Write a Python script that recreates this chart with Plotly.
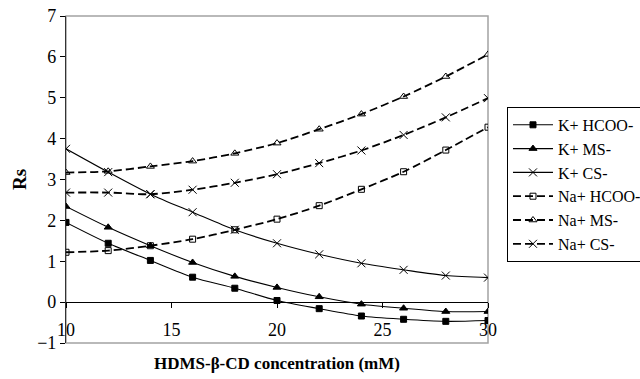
import plotly.graph_objects as go

# HDMS-beta-CD concentration (mM)
conc = [10, 12, 14, 16, 18, 20, 22, 24, 26, 28, 30]

# Resolution Rs for each background electrolyte
k_hcoo = [1.95, 1.44, 1.02, 0.61, 0.34, 0.04, -0.16, -0.34, -0.42, -0.47, -0.45]
k_ms = [2.34, 1.83, 1.38, 0.97, 0.63, 0.36, 0.13, -0.05, -0.15, -0.23, -0.23]
k_cs = [3.75, 3.18, 2.64, 2.20, 1.77, 1.44, 1.17, 0.95, 0.79, 0.65, 0.60]
na_hcoo = [1.22, 1.26, 1.38, 1.54, 1.77, 2.03, 2.36, 2.76, 3.19, 3.72, 4.28]
na_ms = [3.17, 3.20, 3.32, 3.45, 3.64, 3.89, 4.23, 4.60, 5.03, 5.52, 6.06]
na_cs = [2.68, 2.68, 2.64, 2.75, 2.92, 3.13, 3.40, 3.71, 4.09, 4.52, 4.99]

series = [
    ("K+ HCOO-", k_hcoo, "solid", "square", 6),
    ("K+ MS-", k_ms, "solid", "triangle-up", 7),
    ("K+ CS-", k_cs, "solid", "x-thin", 8),
    ("Na+ HCOO-", na_hcoo, "dash", "square-open", 6),
    ("Na+ MS-", na_ms, "dash", "triangle-up-open", 7),
    ("Na+ CS-", na_cs, "dash", "x-thin", 8),
]

SERIF = "Liberation Serif"

fig = go.Figure()
for name, vals, style, sym, size in series:
    dashed = style == "dash"
    fig.add_trace(go.Scatter(
        x=conc, y=vals, name=name, mode="lines+markers",
        line=dict(color="black", width=1.8 if dashed else 1.1,
                  dash="8px,4px" if dashed else "solid", shape="spline", smoothing=0.8),
        marker=dict(symbol=sym, size=size, color="black",
                    line=dict(color="black", width=1)),
    ))

# Grey plot-area frame
fig.add_shape(type="rect", xref="paper", yref="paper", x0=0, y0=0, x1=1, y1=1,
              line=dict(color="#a3a3a3", width=1.5), layer="below")

fig.update_layout(
    width=640, height=379,
    margin=dict(l=66, r=152, t=16, b=36, autoexpand=False),
    paper_bgcolor="white", plot_bgcolor="white",
    font=dict(family=SERIF, size=16, color="black"),
    showlegend=True,
    legend=dict(x=1.045, xanchor="left", y=0.722, yanchor="top",
                bordercolor="black", borderwidth=1, bgcolor="white",
                font=dict(family=SERIF, size=16), itemwidth=40,
                entrywidth=130, entrywidthmode="pixels"),
    xaxis=dict(range=[10, 30], dtick=5, tick0=10, anchor="free", position=0.125,
               showline=True, linecolor="black", linewidth=1,
               ticks="outside", ticklen=5, tickcolor="black",
               ticklabelstandoff=6,
               showgrid=False, zeroline=False,
               tickfont=dict(family=SERIF, size=18)),
    yaxis=dict(range=[-1, 7], dtick=1, showline=True, linecolor="#333333", linewidth=1.2,
               ticks="outside", ticklen=5, tickcolor="black",
               showgrid=False, zeroline=False,
               tickfont=dict(family=SERIF, size=18)),
    annotations=[
        dict(text="<b>HDMS-β-CD concentration (mM)</b>", xref="paper", yref="paper",
             x=0.5, y=-0.062, xanchor="center", yanchor="middle", showarrow=False,
             font=dict(family=SERIF, size=17)),
        dict(text="<b>Rs</b>", xref="paper", yref="paper", textangle=-90,
             x=-0.11, y=0.5, xanchor="center", yanchor="middle", showarrow=False,
             font=dict(family=SERIF, size=19)),
    ],
)

fig.write_html("out.html")
